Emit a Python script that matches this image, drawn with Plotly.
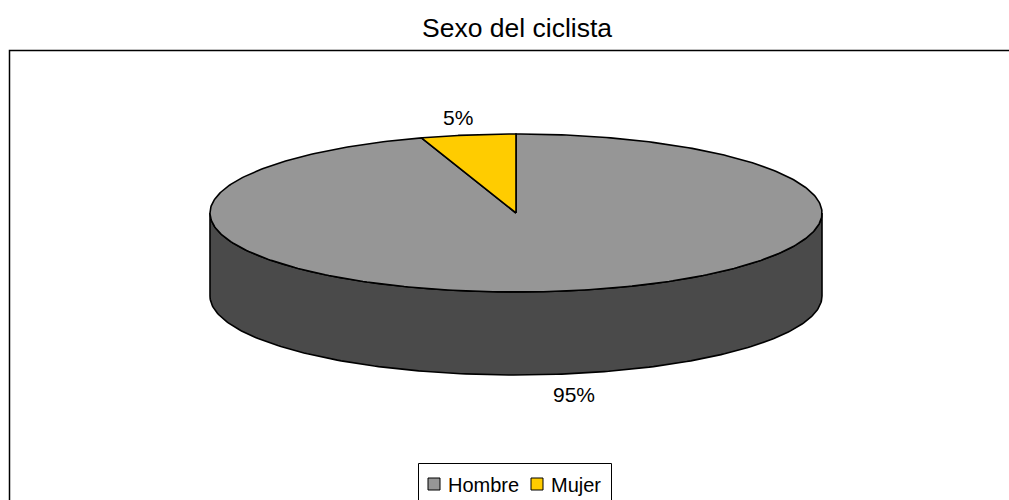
import numpy as np
import plotly.graph_objects as go

# Data
categories = ["Hombre", "Mujer"]
values = [95, 5]
top_colors = ["#969696", "#FFCC00"]
side_colors = ["#4a4a4a", "#7f6600"]

W, H = 1009, 500
FONT = "Liberation Sans, Arial, sans-serif"

# Pie geometry (pixel space)
cx, cy = 516, 213
rx, ry = 306, 79
depth = 83


def ell(t_deg, dy=0.0, k=1.0):
    t = np.radians(t_deg)
    return cx + k * rx * np.cos(t), cy - k * ry * np.sin(t) + dy


fig = go.Figure()

total = float(sum(values))
fracs = [v / total for v in values]

# slice angles: clockwise from 12 o'clock
angles = []
start = 90.0
for f in fracs:
    end = start - 360.0 * f
    angles.append((start, end))
    start = end

# Side wall (front half of the cylinder), drawn per slice segment
for (a0, a1), col in zip(angles, side_colors):
    lo, hi = min(a0, a1), max(a0, a1)
    segs = []
    for shift in (-720, -360, 0, 360):
        s0, s1 = max(lo, 180 + shift), min(hi, 360 + shift)
        if s1 > s0:
            segs.append((s0, s1))
    for s0, s1 in segs:
        t = np.linspace(s0, s1, 200)
        xt, yt = ell(t)
        xb, yb = ell(t[::-1], dy=depth)
        fig.add_trace(go.Scatter(
            x=np.concatenate([xt, xb, xt[:1]]),
            y=np.concatenate([yt, yb, yt[:1]]),
            mode="lines", fill="toself", fillcolor=col,
            line=dict(color="black", width=1.6),
            hoverinfo="skip", showlegend=False))

# Top faces
for (a0, a1), col in zip(angles, top_colors):
    t = np.linspace(a0, a1, 400)
    xa, ya = ell(t)
    fig.add_trace(go.Scatter(
        x=np.concatenate([[cx], xa, [cx]]),
        y=np.concatenate([[cy], ya, [cy]]),
        mode="lines", fill="toself", fillcolor=col,
        line=dict(color="black", width=1.6),
        hoverinfo="skip", showlegend=False))

# Percentage labels outside each slice
annotations = []
for (a0, a1), f in zip(angles, fracs):
    mid = (a0 + a1) / 2.0
    front = np.sin(np.radians(mid)) < 0
    lx, ly = ell(mid, dy=(depth + 3) if front else 0.0, k=1.22)
    annotations.append(dict(
        x=lx, y=ly, xref="x", yref="y", text=f"{round(f * 100)}%",
        showarrow=False, font=dict(family=FONT, size=21, color="black"),
        xanchor="center", yanchor="middle"))

# Title
annotations.append(dict(
    x=cx + 1, y=28, xref="x", yref="y", text="Sexo del ciclista",
    showarrow=False, font=dict(family=FONT, size=26.5, color="black"),
    xanchor="center", yanchor="middle"))

shapes = [
    # chart area frame: only left and top edges fall on the page
    dict(type="path", xref="x", yref="y", path=f"M 9.5 {H + 50} L 9.5 50.5 L {W + 50} 50.5",
         line=dict(color="black", width=1.5), layer="below"),
    # legend frame
    dict(type="path", xref="x", yref="y",
         path=f"M 418.5 {H + 50} L 418.5 463.5 L 611.5 463.5 L 611.5 {H + 50}",
         line=dict(color="black", width=1), layer="below"),
]

# Legend entries
legend_x = [428, 531]
for name, col, lx in zip(categories, top_colors, legend_x):
    shapes.append(dict(type="rect", xref="x", yref="y", x0=lx, y0=478, x1=lx + 12, y1=490,
                       line=dict(color="black", width=1), fillcolor=col))
    annotations.append(dict(
        x=lx + 18, y=484.5, xref="x", yref="y", text=name, showarrow=False,
        font=dict(family=FONT, size=20, color="black"),
        xanchor="left", yanchor="middle"))

fig.update_layout(
    width=W, height=H, autosize=False,
    margin=dict(l=0, r=0, t=0, b=0),
    paper_bgcolor="white", plot_bgcolor="white",
    xaxis=dict(range=[0, W], visible=False, fixedrange=True),
    yaxis=dict(range=[H, 0], visible=False, fixedrange=True),
    shapes=shapes, annotations=annotations, showlegend=False,
)

fig.write_html("out.html")
